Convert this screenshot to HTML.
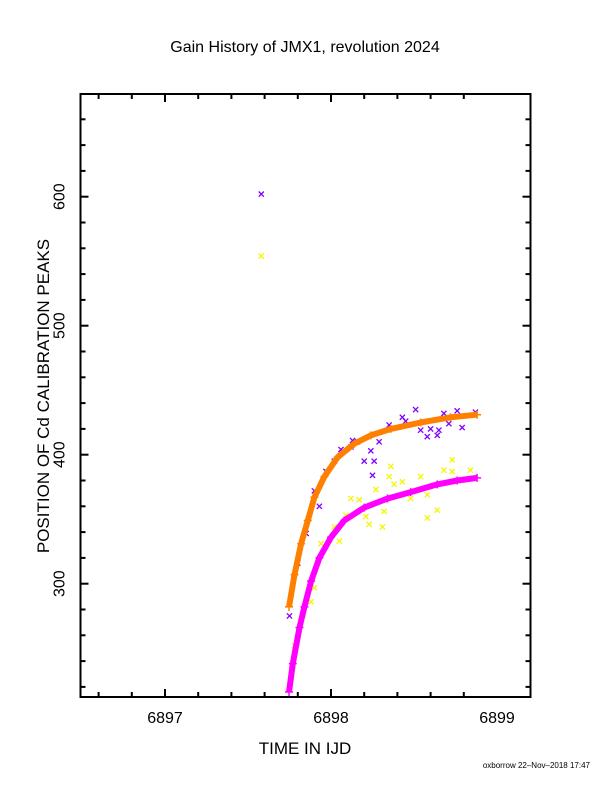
<!DOCTYPE html>
<html><head><meta charset="utf-8"><style>
body{margin:0;background:#fff}
svg{display:block}
text{font-family:"Liberation Sans",sans-serif;fill:#000}
</style></head><body>
<svg id="chart" width="612" height="792">
<text x="305" y="52" text-anchor="middle" font-size="16">Gain History of JMX1, revolution 2024</text>
<text transform="translate(49,396) rotate(-90)" text-anchor="middle" font-size="17">POSITION OF Cd CALIBRATION PEAKS</text>
<text x="305" y="754" text-anchor="middle" font-size="17">TIME IN IJD</text>
<text x="590" y="768" text-anchor="end" font-size="8">oxborrow 22–Nov–2018 17:47</text>
<g id="plot"></g>
</svg>
<script>
const xTicks=[6897,6898,6899];
const yTicks=[300,400,500,600];
const fitHighT=[6897.747,6897.78,6897.82,6897.86,6897.90,6897.96,6898.04,6898.14,6898.24,6898.36,6898.54,6898.72,6898.88];
const fitHighV=[282,307,331,349,367,383,398,408.5,415,420,425,429,431];
const fitLowT=[6897.747,6897.77,6897.81,6897.84,6897.88,6897.93,6898.00,6898.08,6898.20,6898.34,6898.48,6898.64,6898.76,6898.88];
const fitLowV=[216,238,266,282,302,320,336,349,359,366,371,377,380,382];
const purpleT=[6897.58,6897.75,6897.80,6897.85,6897.90,6897.93,6897.97,6898.02,6898.06,6898.13,6898.20,6898.24,6898.25,6898.26,6898.29,6898.35,6898.43,6898.45,6898.51,6898.54,6898.58,6898.60,6898.64,6898.65,6898.68,6898.71,6898.76,6898.79,6898.87,6898.16,6898.12];
const purpleV=[602,275,316,339,372,360,387,395,404,411,395,403,384,395,410,423,429,426,435,419,414,420,415,419,432,424,434,421,433,410,406];
const yellowT=[6897.58,6897.78,6897.88,6897.90,6897.94,6898.02,6898.05,6898.09,6898.12,6898.17,6898.21,6898.23,6898.27,6898.31,6898.32,6898.35,6898.36,6898.38,6898.43,6898.48,6898.54,6898.58,6898.58,6898.64,6898.68,6898.73,6898.73,6898.79,6898.84];
const yellowV=[554,252,286,297,331,344,333,353,366,365,352,346,373,344,356,383,391,377,379,366,383,369,351,357,388,396,387,380,388];

const L=80.5,R=530.5,T=94,B=697;
const xs=t=>165+(t-6897)*166;
const ys=v=>583.7-(v-300)*1.29;
const NS='http://www.w3.org/2000/svg';
const g=document.getElementById('plot');
function mk(tag,attrs){const e=document.createElementNS(NS,tag);for(const k in attrs)e.setAttribute(k,attrs[k]);g.appendChild(e);return e;}
// frame
const fr=mk('rect',{x:L,y:T,width:R-L,height:B-T,fill:'none',stroke:'#000','stroke-width':2});


// x ticks
for(let i=-2;i<=11;i++){const t=6896.6+i*0.2;const x=xs(t);if(x<=L+1||x>=R-1)continue;
 const major=Math.abs(t-Math.round(t))<1e-6;const len=major?8:5;
 const a=mk('line',{x1:x,x2:x,y1:B,y2:B-len,stroke:'#000','stroke-width':2});
 
 
 const b=mk('line',{x1:x,x2:x,y1:T,y2:T+len,stroke:'#000','stroke-width':2});
 
 }
xTicks.forEach(t=>{const e=mk('text',{x:xs(t),y:B+26,'text-anchor':'middle','font-size':16});e.textContent=t;
 
 });
// y ticks
for(let v=220;v<=680;v+=20){const y=ys(v);if(y<=T+1||y>=B-1)continue;
 const len=(v%100===0)?8:5;
 const a=mk('line',{x1:L,x2:L+len,y1:y,y2:y,stroke:'#000','stroke-width':2});
 
 
 const b=mk('line',{x1:R,x2:R-len,y1:y,y2:y,stroke:'#000','stroke-width':2});
 
 }
yTicks.forEach(v=>{const e=mk('text',{transform:`translate(${L-16},${ys(v)}) rotate(-90)`,'text-anchor':'middle','font-size':16});e.textContent=v;
 
 });
// scatter
function cross(t,v,color,name){const x=xs(t),y=ys(v),s=2.6;
 const p=mk('path',{d:`M${x-s},${y-s}L${x+s},${y+s}M${x-s},${y+s}L${x+s},${y-s}`,stroke:color,'stroke-width':1.3});
 
 }
yellowT.forEach((t,i)=>cross(t,yellowV[i],'#f5f500','yellow-point'));
purpleT.forEach((t,i)=>cross(t,purpleV[i],'#8000ff','purple-point'));
// fits
function fit(T_,V_,color,name){
 const pts=T_.map((t,i)=>xs(t).toFixed(1)+','+ys(V_[i]).toFixed(1)).join(' ');
 const pl=mk('polyline',{points:pts,fill:'none',stroke:color,'stroke-width':6,'stroke-linejoin':'round'});
 
 
 T_.forEach((t,i)=>{const x=xs(t),y=ys(V_[i]);
  const p=mk('path',{d:`M${x-4},${y}L${x+4},${y}M${x},${y-4}L${x},${y+4}`,stroke:color,'stroke-width':1.5});
  
  });}
fit(fitHighT,fitHighV,'#ff7f00','orange-fit-curve');
fit(fitLowT,fitLowV,'#ff00ff','magenta-fit-curve');
</script>
</body></html>
